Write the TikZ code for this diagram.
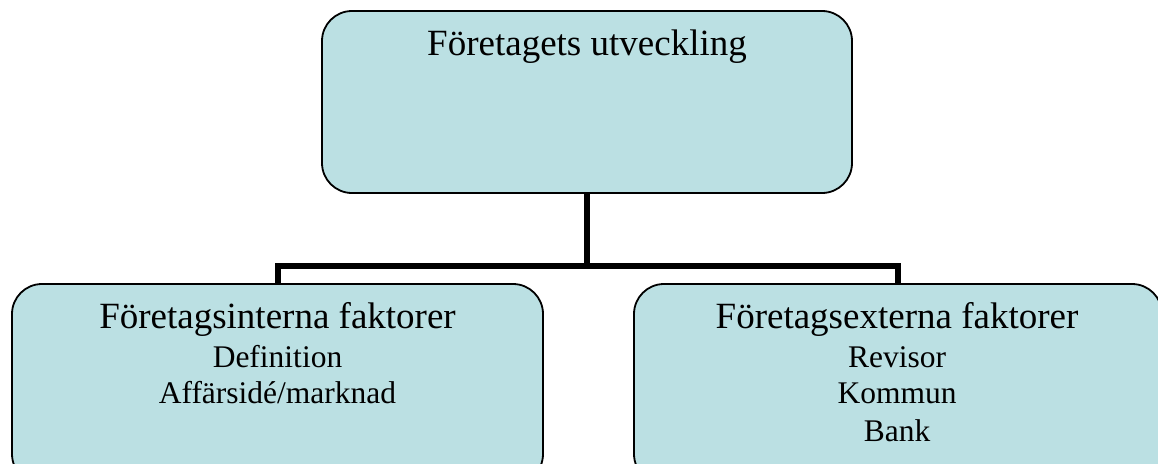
\documentclass[tikz,border=0pt]{standalone}
\usepackage{fontspec}
\setmainfont{Liberation Serif}
\begin{document}
\begin{tikzpicture}[x=1pt,y=-1pt,
  box/.style={draw=black, line width=1.8pt, fill=boxfill, rounded corners=30pt,
    inner sep=0pt, outer sep=0pt, anchor=north west},
  conn/.style={draw=black, line width=6pt},
  head/.style={anchor=base, inner sep=0pt, font=\fontsize{37}{44}\selectfont},
  item/.style={anchor=base, inner sep=0pt, font=\fontsize{31.5}{37}\selectfont}]
\definecolor{boxfill}{HTML}{BBE0E3}
\useasboundingbox (0,0) rectangle (1158,463);
\clip (0,0) rectangle (1158,463);

% boxes
\node[box, minimum width=530pt, minimum height=182pt] (tbox) at (322,11) {};
\node[box, minimum width=531pt, minimum height=200pt] (lbox) at (12,284) {};
\node[box, minimum width=528pt, minimum height=200pt] (rbox) at (634,284) {};

% connectors
\coordinate (j) at (587,266);
\draw[conn] (tbox.south) -- (j);
\draw[conn] (lbox.north) |- (j) -| (rbox.north);

% texts
\node[head] (t0) at (587,55) {Företagets utveckling};

\node[head] (l0) at (277.5,328) {Företagsinterna faktorer};
\node[item] (l1) at (277.5,367) {Definition};
\node[item] (l2) at (277.5,403) {Affärsidé/marknad};

\node[head] (r0) at (897,328) {Företagsexterna faktorer};
\node[item] (r1) at (897,367) {Revisor};
\node[item] (r2) at (897,403) {Kommun};
\node[item] (r3) at (897,441) {Bank};
\end{tikzpicture}
\end{document}
